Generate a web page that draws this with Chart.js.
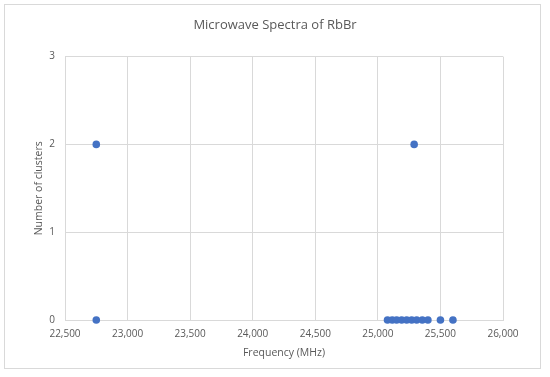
<!DOCTYPE html>
<html>
<head>
<meta charset="utf-8">
<script src="https://cdn.jsdelivr.net/npm/chart.js@4"></script>
<style>
  html, body { margin: 0; padding: 0; background: #fff; }
  #wrap { position: relative; width: 550px; height: 377px; }
</style>
</head>
<body>
<div id="wrap"><canvas id="spectra" width="550" height="377"></canvas></div>
<script>
// ===== Data =====
const frequencies = [22750, 22750, 25290, 25077, 25115, 25150, 25190, 25230, 25270, 25310, 25355, 25400, 25500, 25600];
const clusters    = [2,     0,     2,     0,     0,     0,     0,     0,     0,     0,     0,     0,     0,     0];

const xMin = 22500, xMax = 26000, xStep = 500;
const yMin = 0, yMax = 3, yStep = 1;

const points = frequencies.map((f, i) => ({ x: f, y: clusters[i] }));

const textColor = "#595959";
const gridColor = "#d9d9d9";
const fontFamily = "'Open Sans', 'Liberation Sans', sans-serif";

// ===== outer frame like the spreadsheet chart box =====
const framePlugin = {
  id: "frame",
  beforeDraw(chart) {
    const ctx = chart.ctx;
    ctx.save();
    ctx.fillStyle = "#ffffff";
    ctx.fillRect(0, 0, chart.width, chart.height);
    ctx.strokeStyle = gridColor;
    ctx.lineWidth = 1;
    ctx.strokeRect(4.5, 4.5, 536, 364);
    ctx.restore();
  }
};

new Chart(document.getElementById("spectra"), {
  type: "scatter",
  data: {
    datasets: [
      {
        label: "Number of clusters",
        data: points,
        backgroundColor: "#4472c4",
        borderColor: "#4472c4",
        pointRadius: 3.8,
        pointHoverRadius: 3.8,
        borderWidth: 0,
        clip: false
      }
    ]
  },
  options: {
    responsive: false,
    animation: false,
    layout: { padding: 0 },
    plugins: {
      legend: { display: false },
      tooltip: { enabled: false },
      title: {
        display: true,
        text: "Microwave Spectra of RbBr",
        color: textColor,
        font: { family: fontFamily, size: 13, weight: "normal" },
        padding: { top: 17, bottom: 24 }
      }
    },
    scales: {
      x: {
        type: "linear",
        min: xMin,
        max: xMax,
        grid: { color: gridColor, drawTicks: false },
        border: { color: gridColor },
        ticks: {
          stepSize: xStep,
          padding: 8,
          color: textColor,
          maxRotation: 0,
          font: { family: fontFamily, size: 10 },
          callback: v => v.toLocaleString("en-US")
        },
        title: {
          display: true,
          text: "Frequency (MHz)",
          color: textColor,
          font: { family: fontFamily, size: 10.5 },
          padding: { top: 4, bottom: 18 }
        },
        afterFit: scale => { scale.height = 57; scale.paddingRight = 47; }
      },
      y: {
        type: "linear",
        min: yMin,
        max: yMax,
        grid: { color: gridColor, drawTicks: false },
        border: { color: gridColor },
        ticks: {
          stepSize: yStep,
          padding: 10,
          color: textColor,
          font: { family: fontFamily, size: 10 }
        },
        title: {
          display: true,
          text: "Number of clusters",
          color: textColor,
          font: { family: fontFamily, size: 10.5 },
          padding: { top: 33, bottom: 4 }
        },
        afterFit: scale => { scale.width = 65; }
      }
    }
  },
  plugins: [framePlugin]
});
</script>
</body>
</html>
